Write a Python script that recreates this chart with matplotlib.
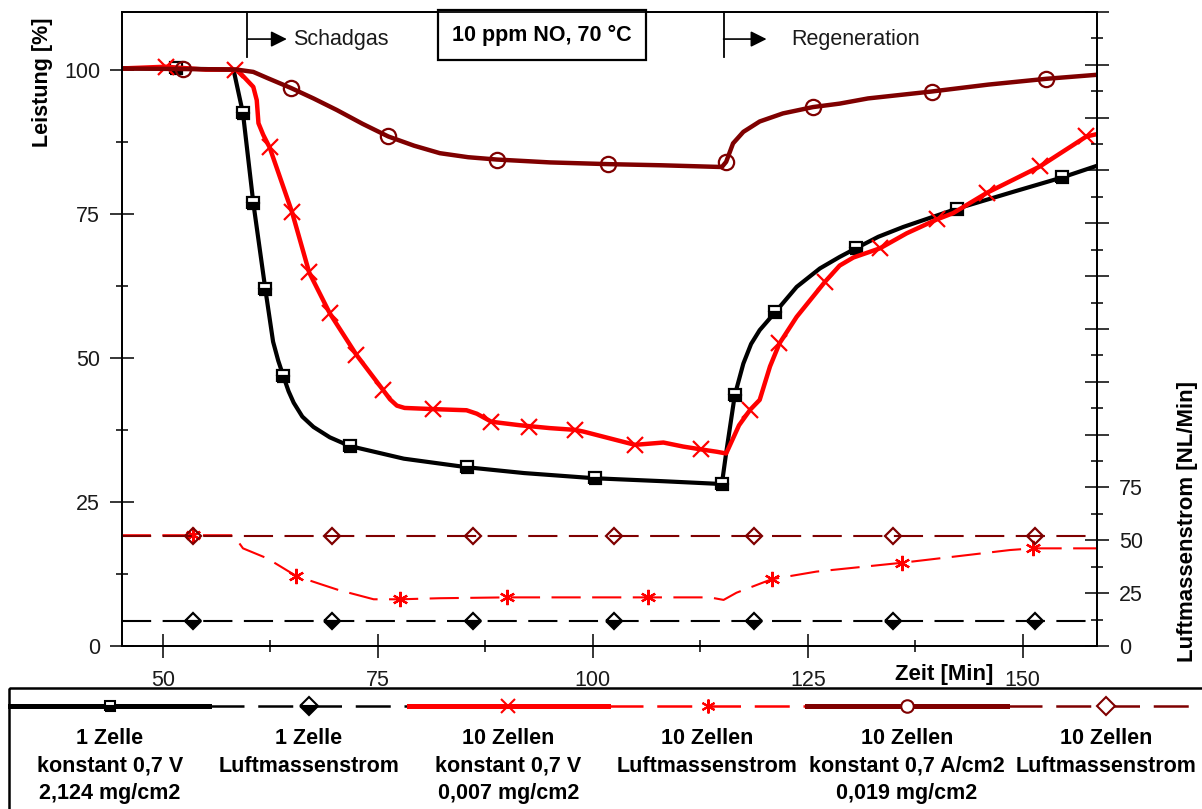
import matplotlib
matplotlib.use('Agg')
import matplotlib.pyplot as plt
from matplotlib.ticker import MultipleLocator, FixedLocator, FuncFormatter
from matplotlib.patches import Rectangle

plt.rcParams['font.family'] = ['Liberation Sans', 'DejaVu Sans']
plt.rcParams['font.size'] = 15.5

BLACK = '#000000'
RED = '#ff0000'
DARKRED = '#7f0000'

# --- Leistung [%] ueber Zeit [Min] ---
t_1z = [45.2, 50, 55, 58.2, 59.3, 60.5, 61.9, 62.8, 63.4, 64.0, 64.6, 65.2, 66.2, 67.5, 69.4,
        71.7, 78, 85.4, 92, 100.2, 108, 115.0, 115.5, 116.5, 117.5, 118.4, 119.4, 121.2,
        123.7, 126.4, 128.7, 130.6, 133.2, 136.1, 142.4, 148.9, 154.6, 158.6]
p_1z = [100.2, 100.2, 100.1, 100.0, 92.4, 76.9, 61.9, 52.8, 49.5, 46.8, 44.2, 42.2, 39.8, 38.0,
        36.2, 34.7, 32.5, 31.0, 30.0, 29.1, 28.6, 28.1, 33.5, 43.5, 49.0, 52.4, 54.8, 57.9,
        62.3, 65.5, 67.5, 69.0, 71.0, 72.7, 75.9, 78.8, 81.3, 83.3]
mk_1z_t = [51.5, 59.3, 60.5, 61.9, 64.0, 71.7, 85.4, 100.2, 115.0, 116.5, 121.2, 130.6, 142.4, 154.6]
mk_1z_p = [100.2, 92.4, 76.9, 61.9, 46.8, 34.7, 31.0, 29.1, 28.1, 43.5, 57.9, 69.0, 75.9, 81.3]

t_10v = [45.2, 50.3, 55, 58.6, 60.5, 60.9, 61.1, 61.65, 62.4, 65.0, 67.0, 69.4, 72.5, 75.6,
         76.4, 77.2, 78.1, 81.4, 85.3, 86.5, 88.2, 91.5, 95.0, 97.9, 98.9, 102.8, 104.9, 108.2,
         110.5, 112.6, 114.4, 115.5, 117.0, 118.3, 119.4, 120.6, 121.7, 123.7, 127.0, 128.7,
         130.3, 133.4, 136.5, 140.0, 141.9, 145.8, 152.0, 157.4, 158.6]
p_10v = [100.2, 100.5, 100.0, 100.0, 97.0, 94.7, 90.7, 88.7, 86.5, 75.3, 64.8, 57.7, 50.5, 44.4,
         42.8, 41.7, 41.3, 41.1, 40.9, 40.3, 38.9, 38.3, 37.8, 37.5, 37.2, 35.7, 34.9, 35.3,
         34.6, 34.1, 33.7, 33.4, 38.3, 41.0, 42.7, 48.5, 52.5, 57.1, 63.2, 66.0, 67.4, 69.0,
         71.6, 74.0, 75.1, 78.6, 83.2, 88.4, 88.8]
mk_10v_t = [50.3, 58.4, 62.4, 65.0, 67.0, 69.4, 72.5, 75.6, 81.4, 88.2, 92.6, 97.9, 104.9,
            112.6, 118.3, 121.7, 127.0, 133.4, 140.0, 145.8, 152.0, 157.4]
mk_10v_p = [100.5, 100.0, 86.5, 75.3, 64.8, 57.7, 50.5, 44.4, 41.1, 38.9, 38.0, 37.5, 34.9,
            34.1, 41.0, 52.5, 63.2, 69.0, 74.0, 78.6, 83.2, 88.4]

t_10a = [45.2, 52.3, 58.6, 60.5, 62.2, 64.9, 67.5, 70.2, 73.2, 76.2, 79.2, 82.2, 85.5, 88.8, 95,
         101.8, 108, 115.0, 115.5, 116.3, 117.5, 119.4, 122.1, 125.6, 128.7, 132, 139.4, 146,
         152.7, 158.6]
p_10a = [100.2, 100.1, 100.0, 99.6, 98.5, 96.8, 95.0, 93.0, 90.6, 88.4, 86.8, 85.5, 84.8, 84.4,
         83.9, 83.6, 83.4, 83.1, 84.0, 87.2, 89.2, 91.0, 92.4, 93.5, 94.1, 95.0, 96.2, 97.4,
         98.4, 99.1]
mk_10a_t = [52.3, 64.9, 76.2, 88.8, 101.8, 115.5, 125.6, 139.4, 152.7]
mk_10a_p = [100.1, 96.8, 88.4, 84.4, 83.6, 84.0, 93.5, 96.2, 98.4]

# --- Luftmassenstrom [NL/Min] ---
t_flow_1z = [45.2, 158.6]
q_flow_1z = [11.8, 11.8]
t_flow_10a = [45.2, 158.6]
q_flow_10a = [52.2, 52.2]
mk_flow_t = [53.5, 69.7, 86.1, 102.4, 118.7, 134.9, 151.4]
mk_flow_1z = [11.8] * 7
mk_flow_10a = [52.2] * 7

t_flow_10v = [45.2, 58.2, 59.3, 62.1, 65.5, 68.3, 70.4, 74.5, 77.6, 82.2, 90.0, 106.4, 113.6,
              115.2, 116.7, 120.8, 126.0, 136.0, 145.4, 148.5, 151.2, 158.6]
q_flow_10v = [52.4, 52.4, 46.2, 41.5, 33.1, 29.3, 26.5, 22.1, 22.1, 22.6, 23.0, 23.0, 23.0,
              21.8, 25.2, 31.6, 35.2, 39.4, 43.9, 45.4, 46.2, 46.2]
mk_flow_10v_t = [53.5, 65.5, 77.6, 90.0, 106.4, 120.8, 136.0, 151.2]
mk_flow_10v_q = [52.4, 33.1, 22.1, 23.0, 23.0, 31.6, 39.4, 46.2]

legend_rows = [
    ['1 Zelle', 'konstant 0,7 V', '2,124 mg/cm2'],
    ['1 Zelle', 'Luftmassenstrom'],
    ['10 Zellen', 'konstant 0,7 V', '0,007 mg/cm2'],
    ['10 Zellen', 'Luftmassenstrom'],
    ['10 Zellen', 'konstant 0,7 A/cm2', '0,019 mg/cm2'],
    ['10 Zellen', 'Luftmassenstrom'],
]

DASH = (0, (14, 5.5))

fig = plt.figure(figsize=(12.02, 8.09), dpi=100)
ax = fig.add_axes([0.1013, 0.2015, 0.8111, 0.7837])
ax2 = ax.twinx()

ax.plot(t_1z, p_1z, color=BLACK, lw=3, solid_joinstyle='round')
ax.plot(mk_1z_t, mk_1z_p, ls='none', marker='s', ms=8, mec=BLACK, mfc=BLACK,
        fillstyle='bottom', markerfacecoloralt='white', mew=1.6)
ax.plot(t_10v, p_10v, color=RED, lw=3.2, solid_joinstyle='round')
ax.plot(mk_10v_t, mk_10v_p, ls='none', marker='x', ms=11, mec=RED, mew=1.6)
ax.plot(t_10a, p_10a, color=DARKRED, lw=3.2, solid_joinstyle='round')
ax.plot(mk_10a_t, mk_10a_p, ls='none', marker='o', ms=11, mec=DARKRED, mfc='none', mew=1.6)

ax2.plot(t_flow_1z, q_flow_1z, color=BLACK, lw=1.5, ls=DASH)
ax2.plot(mk_flow_t, mk_flow_1z, ls='none', marker='D', ms=8, mec=BLACK, mfc=BLACK,
         fillstyle='bottom', markerfacecoloralt='white', mew=1.6)
ax2.plot(t_flow_10v, q_flow_10v, color=RED, lw=1.5, ls=DASH)
ax2.plot(mk_flow_10v_t, mk_flow_10v_q, ls='none', marker=(6, 2, 0), ms=11, mec=RED, mew=1.6)
ax2.plot(t_flow_10a, q_flow_10a, color=DARKRED, lw=1.5, ls=DASH)
ax2.plot(mk_flow_t, mk_flow_10a, ls='none', marker='D', ms=8, mec=DARKRED, mfc='none', mew=1.6)

ax.set_xlim(45.2, 158.6)
ax.set_ylim(0, 110)
ax2.set_ylim(0, 300)

ax.xaxis.set_major_locator(MultipleLocator(25))
ax.xaxis.set_minor_locator(MultipleLocator(12.5))
ax.yaxis.set_major_locator(FixedLocator([0, 25, 50, 75, 100]))
ax.yaxis.set_minor_locator(MultipleLocator(12.5))
ax2.yaxis.set_major_locator(MultipleLocator(25))
ax2.yaxis.set_minor_locator(MultipleLocator(12.5))
ax2.yaxis.set_major_formatter(FuncFormatter(lambda v, p: '%d' % v if v <= 75 else ''))

for a in (ax, ax2):
    a.tick_params(which='major', direction='inout', length=17, width=1.1,
                  labelsize=15.5, labelcolor='#1a1a1a')
    a.tick_params(which='minor', direction='inout', length=9, width=1.1)
    for s in a.spines.values():
        s.set_linewidth(1.3)
ax.tick_params(axis='x', pad=9)
ax.tick_params(axis='y', pad=7)
ax2.tick_params(axis='y', pad=7.5)

ax.set_xlabel('Zeit [Min]', fontweight='bold', fontsize=16)
ax.xaxis.set_label_coords(0.8937, -0.0442)
ax.xaxis.label.set_ha('right')
ax.xaxis.label.set_va('center')

ax.set_ylabel('Leistung [%]', fontweight='bold', fontsize=15.5)
ax.yaxis.set_label_coords(-0.0817, 0.8896)
ax.yaxis.label.set_va('center')

ax2.set_ylabel('Luftmassenstrom [NL/Min]', fontweight='bold', fontsize=16)
ax2.yaxis.set_label_coords(1.0936, 0.197)
ax2.yaxis.label.set_va('center')
ax2.yaxis.label.set_rotation(90)

# phase markers
for x0, x1, x2, label in [(59.8, 64.4, 65.1, 'Schadgas'), (115.2, 120.2, 123.1, 'Regeneration')]:
    ax.plot([x0, x0], [102.2, 110], color=BLACK, lw=1.3, clip_on=False)
    ax.annotate('', xy=(x1, 105.3), xytext=(x0, 105.3),
                arrowprops=dict(arrowstyle='-|>', mutation_scale=24, color=BLACK, lw=1.2,
                                shrinkA=0, shrinkB=0))
    ax.text(x2, 105.3, label, ha='left', va='center', fontsize=15.5, color='#1a1a1a')

ax.text(94.1, 106.0, '10 ppm NO, 70 °C', ha='center', va='center', fontsize=15.5,
        fontweight='bold',
        bbox=dict(boxstyle='square,pad=0.65', fc='white', ec=BLACK, lw=1.6))

# legend panel below the axes (pixel coordinates)
leg = fig.add_axes([0, 0, 1, 1], zorder=-1)
leg.set_xlim(0, 1202)
leg.set_ylim(809, 0)
leg.axis('off')
leg.add_patch(Rectangle((9, 688), 1260, 200, fill=False, ec=BLACK, lw=1.8, clip_on=False))

leg_styles = [
    dict(color=BLACK, lw=3.6, ls='-', marker='s', ms=7, mec=BLACK, mfc=BLACK,
         fillstyle='bottom', markerfacecoloralt='white'),
    dict(color=BLACK, lw=1.8, ls=DASH, marker='D', ms=9, mec=BLACK, mfc=BLACK,
         fillstyle='bottom', markerfacecoloralt='white'),
    dict(color=RED, lw=3.6, ls='-', marker='x', ms=10, mec=RED),
    dict(color=RED, lw=1.8, ls=DASH, marker=(6, 2, 0), ms=10, mec=RED),
    dict(color=DARKRED, lw=3.6, ls='-', marker='o', ms=9, mec=DARKRED, mfc='white'),
    dict(color=DARKRED, lw=1.8, ls=DASH, marker='D', ms=9, mec=DARKRED, mfc='white'),
]
col_w = 199.3
for i, (style, rows) in enumerate(zip(leg_styles, legend_rows)):
    xa = 10 + col_w * i
    xc = xa + col_w / 2
    leg.plot([xa, xa + col_w], [705.7, 705.7], markevery=[], **style)
    leg.plot([xc], [705.7], ls='none', mew=1.5,
             **{k: v for k, v in style.items() if k not in ('color', 'lw', 'ls')})
    for j, line in enumerate(rows):
        leg.text(xc, 738 + 28 * j, line, ha='center', va='center', fontsize=15.5,
                 fontweight='bold')

fig.savefig('out.png', dpi=100)
